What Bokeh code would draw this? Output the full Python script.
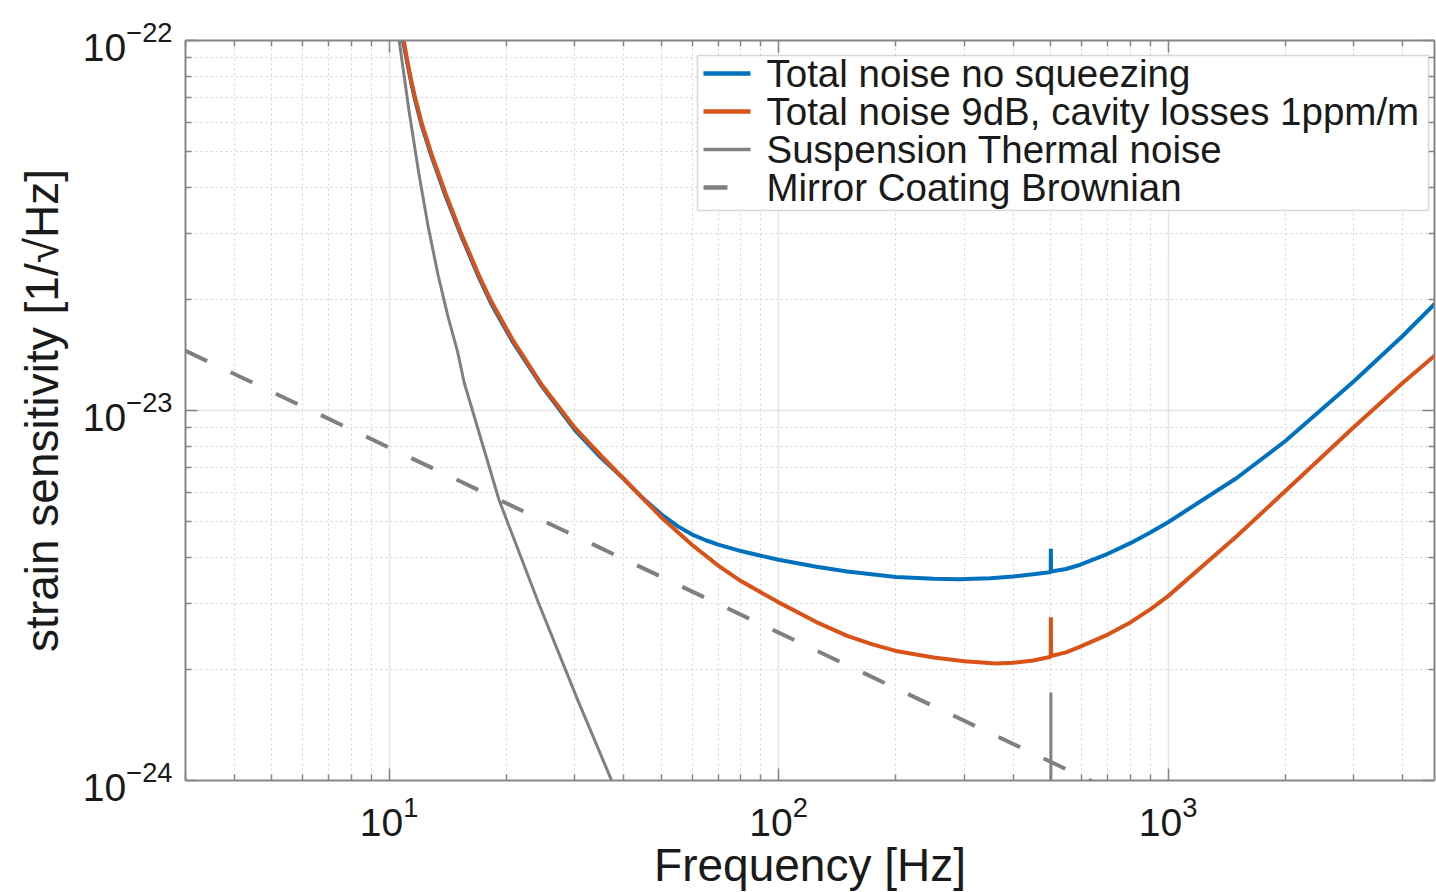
import numpy as np
from bokeh.plotting import figure
from bokeh.models import (LogAxis, FixedTicker, Label, Arrow, BoxAnnotation,
                          CustomJSTickFormatter, Range1d)
from bokeh.embed import file_html
from bokeh.resources import INLINE

# ---- strain amplitude spectral densities [1/sqrt(Hz)] vs frequency [Hz] ----
freq_nosqz = [10.85, 11.1, 11.4, 11.66, 12.15, 12.9, 14.0, 15.4, 17.0, 18.3, 20.7,
              24.7, 30, 35, 40, 45, 50, 55, 60, 65, 70, 80, 90, 100, 125, 150,
              200, 250, 290, 350, 400, 450, 490, 499.5, 500, 500.5, 547, 595, 700,
              800, 900, 1000, 1500, 2000, 3000, 4000, 5000]
asd_nosqz = [1.0e-22, 8.84e-23, 7.66e-23, 6.9e-23, 5.84e-23, 4.8e-23, 3.77e-23,
             2.92e-23, 2.29e-23, 1.94e-23, 1.54e-23, 1.16e-23, 8.85e-24, 7.45e-24,
             6.54e-24, 5.77e-24, 5.24e-24, 4.87e-24, 4.62e-24, 4.46e-24, 4.34e-24,
             4.17e-24, 4.05e-24, 3.95e-24, 3.78e-24, 3.67e-24, 3.55e-24, 3.51e-24,
             3.50e-24, 3.52e-24, 3.56e-24, 3.61e-24, 3.65e-24, 3.66e-24, 4.23e-24,
             3.67e-24, 3.73e-24, 3.83e-24, 4.10e-24, 4.38e-24, 4.68e-24, 4.99e-24,
             6.57e-24, 8.27e-24, 1.2e-23, 1.59e-23, 2.01e-23]

freq_sqz = [10.9, 11.1, 11.4, 11.66, 12.15, 12.9, 14.0, 15.4, 17.0, 18.3, 20.7,
            24.7, 30, 35, 40, 50, 60, 70, 80, 100, 125, 150, 175, 200, 250, 300,
            362, 400, 450, 490, 499.5, 500, 500.5, 547, 595, 700, 800, 900, 1000,
            1500, 2000, 3000, 4000, 5000]
asd_sqz = [1.0e-22, 8.97e-23, 7.78e-23, 7.0e-23, 5.93e-23, 4.87e-23, 3.83e-23,
           2.96e-23, 2.32e-23, 1.97e-23, 1.56e-23, 1.17e-23, 8.97e-24, 7.55e-24,
           6.54e-24, 5.14e-24, 4.33e-24, 3.81e-24, 3.46e-24, 3.03e-24, 2.68e-24,
           2.46e-24, 2.33e-24, 2.24e-24, 2.15e-24, 2.10e-24, 2.07e-24, 2.08e-24,
           2.11e-24, 2.15e-24, 2.16e-24, 2.76e-24, 2.17e-24, 2.22e-24, 2.30e-24,
           2.48e-24, 2.675e-24, 2.90e-24, 3.15e-24, 4.57e-24, 6.06e-24, 9.02e-24,
           1.186e-23, 1.45e-23]

freq_susp = [10.0, 10.61, 11.24, 11.91, 12.61, 13.36, 14.15, 14.99, 15.58, 19.16,
             24.27, 30.39, 37.15, 45, 100, 499.5, 500, 500.5, 1000]
asd_susp = [1.5e-22, 1.0e-22, 6.48e-23, 4.39e-23, 3.12e-23, 2.32e-23, 1.80e-23,
            1.44e-23, 1.19e-23, 5.72e-24, 2.99e-24, 1.665e-24, 1.007e-24, 6.36e-25,
            5.0e-26, 1.0e-26, 1.73e-24, 1.0e-26, 3.0e-27]

freq_coat = [3, 10, 100, 1000]
asd_coat = [1.45e-23, 7.94e-24, 2.51e-24, 7.94e-25]

# ---- axis ticks ----
x_major = [10, 100, 1000]
x_minor = [m * 10 ** k for k in range(0, 4) for m in range(2, 10)]
y_major = [1e-24, 1e-23, 1e-22]
y_minor = [m * 10.0 ** k for k in (-24, -23) for m in range(2, 10)]

series_names = ["Total noise no squeezing",
                "Total noise 9dB, cavity losses 1ppm/m",
                "Suspension Thermal noise",
                "Mirror Coating Brownian"]

FONT = "Liberation Sans"
TXT = "#1a1a1a"
AXC = "#858585"
BLUE = "#0072BD"
ORANGE = "#D95319"
GRAY = "#808080"

X0, X1 = 3, 4830
Y0, Y1 = 1e-24, 1e-22

p = figure(frame_width=1249, frame_height=740,
           x_axis_type="log", y_axis_type="log",
           x_range=Range1d(X0, X1), y_range=Range1d(Y0, Y1),
           output_backend="svg", toolbar_location=None,
           min_border_left=185, min_border_right=2,
           min_border_top=40, min_border_bottom=112,
           background_fill_color="white", border_fill_color="white")
p.outline_line_color = None

xt = FixedTicker(ticks=x_major, minor_ticks=x_minor)
yt = FixedTicker(ticks=y_major, minor_ticks=y_minor)


def style_axis(ax):
    ax.axis_line_color = AXC
    ax.axis_line_width = 2
    ax.major_tick_line_color = AXC
    ax.minor_tick_line_color = AXC
    ax.major_tick_line_width = 1.5
    ax.minor_tick_line_width = 1.5
    ax.major_tick_in = 12
    ax.major_tick_out = 0
    ax.minor_tick_in = 6
    ax.minor_tick_out = 0
    ax.major_label_text_font = FONT
    ax.major_label_text_font_size = "39px"
    ax.major_label_text_color = TXT
    ax.axis_label_text_font = FONT
    ax.axis_label_text_font_size = "46px"
    ax.axis_label_text_font_style = "normal"
    ax.axis_label_text_color = TXT


xa = p.xaxis[0]
ya = p.yaxis[0]
xa.ticker = xt
ya.ticker = yt
style_axis(xa)
style_axis(ya)
xa.major_label_standoff = 15
ya.major_label_standoff = 13
xa.axis_label = "Frequency [Hz]"
xa.axis_label_standoff = 0
ya.axis_label = "strain sensitivity [1/\u221aHz]"
ya.axis_label_standoff = 12

# box outline: unlabeled axes on the top and right sides
blank = CustomJSTickFormatter(code="return ''")
for side, tk in (("above", xt), ("right", yt)):
    ax = LogAxis(ticker=tk, formatter=blank)
    style_axis(ax)
    ax.major_label_text_font_size = "1px"
    ax.major_label_standoff = 0
    p.add_layout(ax, side)

# grid: solid major lines, dotted minor lines
p.xgrid.ticker = xt
p.ygrid.ticker = yt
for g in (p.xgrid[0], p.ygrid[0]):
    g.grid_line_color = "#e4e4e4"
    g.grid_line_width = 1.5
    g.minor_grid_line_color = "#d2d2d2"
    g.minor_grid_line_width = 1
    g.minor_grid_line_dash = "2 3"

# curves
styles = [dict(line_color=BLUE, line_width=4),
          dict(line_color=ORANGE, line_width=4),
          dict(line_color=GRAY, line_width=3),
          dict(line_color=GRAY, line_width=4, line_dash="24 26")]
series = [(freq_nosqz, asd_nosqz), (freq_sqz, asd_sqz),
          (freq_susp, asd_susp), (freq_coat, asd_coat)]
for (fx, hy), st in zip(series, styles):
    p.line(fx, hy, **st)

# legend box in the upper right of the frame (screen units from frame bottom-left)
LEG_L, LEG_R, LEG_T, LEG_B = 512, 1243, 725, 570
ROW0, ROW_STEP = 707, 38
p.add_layout(BoxAnnotation(left=LEG_L, right=LEG_R, top=LEG_T, bottom=LEG_B,
                           left_units="screen", right_units="screen",
                           top_units="screen", bottom_units="screen",
                           fill_color="white", fill_alpha=1.0,
                           line_color=GRAY, line_width=1.5, level="overlay"))
for i, (name, st) in enumerate(zip(series_names, styles)):
    ry = ROW0 - i * ROW_STEP
    p.add_layout(Arrow(start=None, end=None,
                       x_start=LEG_L + 6, x_end=LEG_L + 53,
                       y_start=ry, y_end=ry,
                       start_units="screen", end_units="screen",
                       line_color=st["line_color"], line_width=st["line_width"] + 0.5,
                       line_dash=st.get("line_dash", "solid"), level="overlay"))
    p.add_layout(Label(x=LEG_L + 69, y=ry, x_units="screen", y_units="screen",
                       text=name, text_align="left", text_baseline="middle",
                       text_font=FONT, text_font_size="38.5px", text_color=TXT,
                       level="overlay"))

open("out.html", "w").write(file_html(p, INLINE))
